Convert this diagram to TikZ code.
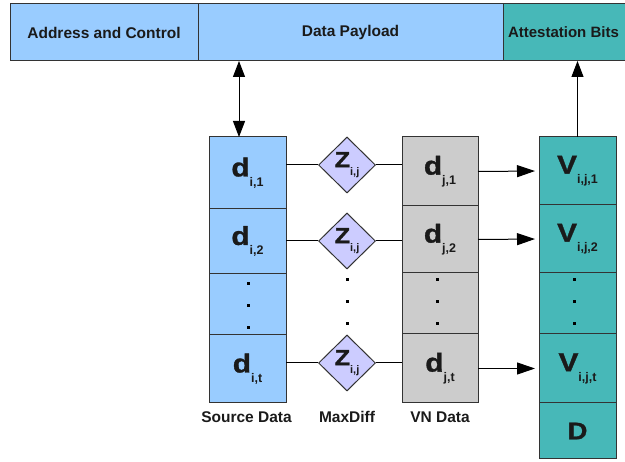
\documentclass[tikz,border=0pt]{standalone}
\usepackage{fontspec}
\setmainfont{Liberation Sans}
\newfontfamily\widefont{Liberation Sans}[FakeStretch=1.15,FakeBold=1.2]
\usetikzlibrary{shapes.geometric,arrows.meta}
\definecolor{pblue}{HTML}{99CCFF}
\definecolor{pteal}{HTML}{47B8B8}
\definecolor{pgray}{HTML}{CCCCCC}
\definecolor{plav}{HTML}{CCCCFF}
\definecolor{pline}{HTML}{333333}
\definecolor{ptext}{HTML}{1A1A1A}
\newcommand{\biglbl}[2]{{\widefont\bfseries\fontsize{26}{26}\selectfont #1}\raisebox{-10pt}{\fontsize{12.5}{12.5}\selectfont #2}}
\newcommand{\zlbl}[2]{{\widefont\bfseries\fontsize{22}{22}\selectfont #1}\raisebox{-8.5pt}{\fontsize{11}{11}\selectfont #2}}
\begin{document}
\begin{tikzpicture}[x=1pt,y=-1pt,
  box/.style={draw=pline, line width=1pt, rectangle, inner sep=0pt, outer sep=0pt,
              text=ptext, font=\bfseries},
  barbox/.style={box, minimum height=57pt, font=\bfseries\fontsize{15.5}{17}\selectfont},
  srcbox/.style={box, fill=pblue, minimum width=77pt},
  vnbox/.style={box, fill=pgray, minimum width=76pt},
  attbox/.style={box, fill=pteal, minimum width=77pt},
  maxd/.style={draw=pline, line width=1pt, diamond, fill=plav, inner sep=0pt,
               minimum width=57pt, minimum height=56pt, text=ptext, font=\bfseries},
  caption/.style={text=ptext, font=\bfseries\fontsize{15.5}{17}\selectfont, inner sep=0pt},
  conn/.style={line width=1pt, black},
  arr/.style={conn, -{Triangle[length=18pt,width=12pt]}},
  varr/.style={conn, -{Triangle[length=16pt,width=12pt]}},
  sq/.style={fill=black, draw=none, rectangle, inner sep=0pt, minimum size=3pt}
]
\useasboundingbox (0,0) rectangle (625,462);

% top bar
\node[barbox, fill=pblue, minimum width=188pt] (ac) at (104,32.5) {Address and Control};
\node[barbox, fill=pblue, minimum width=305pt] (dp) at (350.5,32.5) {Data Payload};
\node[barbox, fill=pteal, minimum width=125pt] (ab) at (565.5,32.5) {\hspace*{-2pt}{\fontsize{15}{17}\selectfont Attestation Bits}\hspace*{2pt}};

% source data column
\node[srcbox, minimum height=72pt] (s1) at (247.5,173) {\biglbl{d}{i,1}};
\node[srcbox, minimum height=65pt] (s2) at (247.5,241.5) {\biglbl{d}{i,2}};
\node[srcbox, minimum height=61pt] (s3) at (247.5,304.5) {};
\node[srcbox, minimum height=68pt] (s4) at (247.5,369) {\biglbl{d}{i,t}};

% VN data column
\node[vnbox, minimum height=69pt] (v1) at (440,171.5) {\biglbl{d}{j,1}};
\node[vnbox, minimum height=67pt] (v2) at (440,239.5) {\biglbl{d}{j,2}};
\node[vnbox, minimum height=61pt] (v3) at (440,303.5) {};
\node[vnbox, minimum height=69pt] (v4) at (440,368.5) {\biglbl{d}{j,t}};

% attestation column
\node[attbox, minimum height=68pt] (a1) at (577.5,171) {\biglbl{V}{i,j,1}};
\node[attbox, minimum height=68pt] (a2) at (577.5,239) {\biglbl{V}{i,j,2}};
\node[attbox, minimum height=61pt] (a3) at (577.5,303.5) {};
\node[attbox, minimum height=69pt] (a4) at (577.5,368.5) {\biglbl{V}{i,j,t}};
\node[attbox, minimum height=56pt] (a5) at (577.5,431) {{\widefont\bfseries\fontsize{24}{24}\selectfont D}};

% MaxDiff diamonds
\node[maxd] (z1) at (347,165) {\zlbl{Z}{i,j}};
\node[maxd] (z2) at (347,241) {\zlbl{Z}{i,j}};
\node[maxd] (z3) at (347,363) {\zlbl{Z}{i,j}};

% captions
\node[caption] (c1) at (246.5,417) {Source Data};
\node[caption] (c2) at (347,417) {MaxDiff};
\node[caption] (c3) at (440,417) {VN Data};

% vertical dots
\foreach \yy [count=\k] in {284,306,328} {
  \node[sq] (ds\k) at (248,\yy) {};
}
\foreach \yy [count=\k] in {280,302,324} {
  \node[sq] (dz\k) at (347,\yy) {};
  \node[sq] (dv\k) at (437,\yy) {};
  \node[sq] (da\k) at (574,\yy) {};
}

% connectors source -> diamond -> VN
\draw[conn] (s1.east |- z1.west) -- (z1.west);
\draw[conn] (z1.east) -- (z1.east -| v1.west);
\draw[conn] (s2.east |- z2.west) -- (z2.west);
\draw[conn] (z2.east) -- (z2.east -| v2.west);
\draw[conn] (s4.east |- z3.west) -- (z3.west);
\draw[conn] (z3.east) -- (z3.east -| v4.west);

% arrows VN -> attestation
\draw[arr, shorten >=4pt] (v1.east) -- (a1.west);
\draw[arr, shorten >=4pt] (v2.east) -- (a2.west);
\draw[arr, shorten >=4pt] (v4.east) -- (a4.west);

% vertical arrows to the header
\coordinate (dtop) at ([xshift=-8.5pt]s1.north);
\draw[conn, {Triangle[length=16pt,width=12pt]}-{Triangle[length=16pt,width=12pt]}] (dtop) -- (dtop |- dp.south);
\draw[varr] (a1.north) -- (a1.north |- ab.south);
\end{tikzpicture}
\end{document}
